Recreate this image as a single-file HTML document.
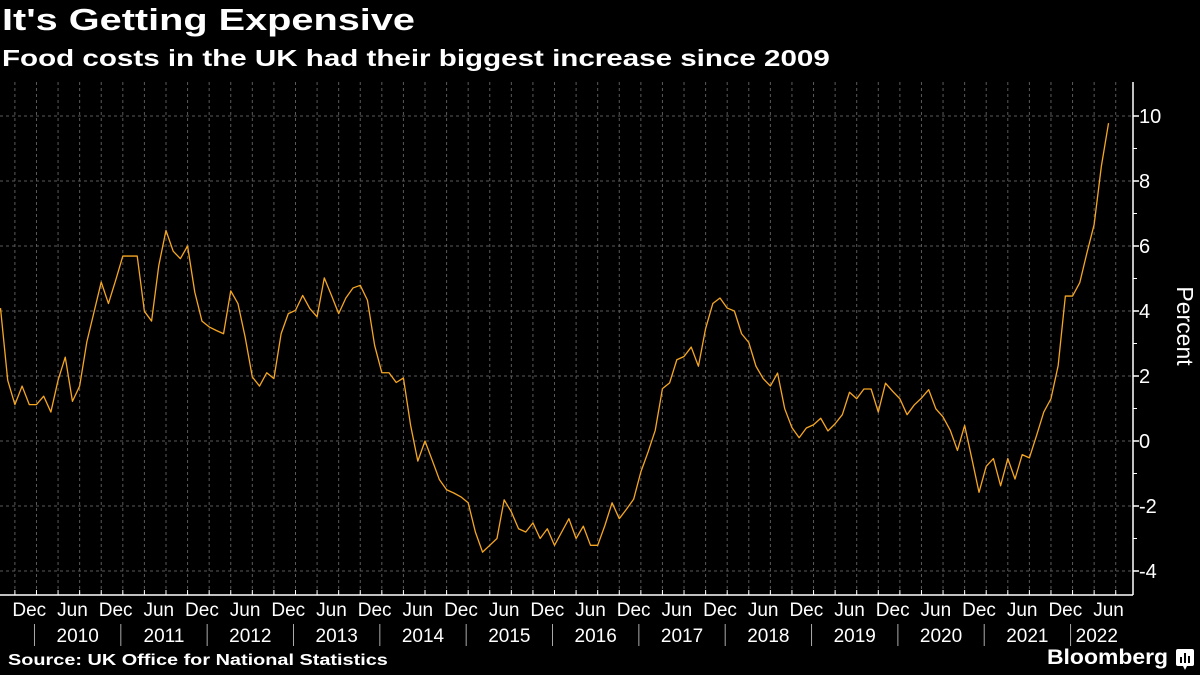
<!DOCTYPE html>
<html><head><meta charset="utf-8">
<style>
html,body{margin:0;padding:0;background:#000;}
body{width:1200px;height:675px;overflow:hidden;font-family:"Liberation Sans",sans-serif;color:#fff;position:relative;}
.fit{position:absolute;white-space:nowrap;transform-origin:0 0;}
#title{left:2px;top:2px;font-size:31px;font-weight:bold;}
#subtitle{left:2px;top:45px;font-size:23px;font-weight:bold;}
#source{left:8px;top:652px;font-size:16px;font-weight:bold;}
#brand{left:1047px;top:646px;font-size:21px;font-weight:bold;}
svg{position:absolute;left:0;top:0;}
</style></head>
<body>
<div id="title" class="fit" data-target="413">It's Getting Expensive</div>
<div id="subtitle" class="fit" data-target="828">Food costs in the UK had their biggest increase since 2009</div>
<svg id="chart" width="1200" height="675"></svg>
<div id="source" class="fit" data-target="380">Source: UK Office for National Statistics</div>
<div id="brand" class="fit" data-target="121">Bloomberg</div>
<svg width="20" height="24" style="left:1175px;top:648px">
<rect x="1" y="1" width="18" height="17" rx="2" fill="#fff"/><path d="M8 18 L10 22 L12 18Z" fill="#fff"/>
<rect x="5" y="9" width="2" height="6" fill="#000"/><rect x="9" y="5" width="2" height="10" fill="#000"/><rect x="13" y="8" width="2" height="7" fill="#000"/>
</svg>
<script>
// Monthly values, Aug 2009 .. Jun 2022
const startYear = 2009, startMonth = 8;
const values = [
4.09,1.87,1.12,1.69,1.12,
1.12,1.38,0.89,1.87,2.58,1.22,1.69,3.05,3.97,4.89,4.23,4.94,
5.69,5.69,5.69,3.99,3.69,5.4,6.48,5.84,5.61,6.0,4.58,3.69,
3.51,3.4,3.3,4.62,4.23,3.2,1.97,1.69,2.1,1.92,3.3,3.92,
4.02,4.48,4.07,3.82,5.02,4.48,3.92,4.4,4.71,4.79,4.33,2.94,
2.1,2.1,1.8,1.94,0.48,-0.62,0.0,-0.59,-1.19,-1.5,-1.6,-1.72,
-1.9,-2.8,-3.42,-3.21,-3.0,-1.81,-2.18,-2.7,-2.8,-2.52,-3.0,-2.7,
-3.21,-2.8,-2.39,-3.0,-2.62,-3.21,-3.21,-2.6,-1.9,-2.39,-2.1,-1.79,
-0.95,-0.34,0.33,1.61,1.79,2.5,2.6,2.89,2.3,3.46,4.23,4.4,
4.09,4.0,3.3,3.03,2.3,1.92,1.69,2.09,0.99,0.41,0.1,0.4,
0.5,0.7,0.31,0.53,0.81,1.5,1.3,1.6,1.6,0.89,1.78,1.53,
1.3,0.81,1.11,1.32,1.58,0.99,0.74,0.33,-0.29,0.48,-0.54,-1.58,
-0.78,-0.54,-1.38,-0.54,-1.17,-0.42,-0.52,0.17,0.89,1.3,2.32,4.46,
4.46,4.87,5.79,6.66,8.45,9.78
];
const yTicks = [-4,-2,0,2,4,6,8,10];
const yMinorTicks = [-3,-1,1,3,5,7,9];
const years = [2010,2011,2012,2013,2014,2015,2016,2017,2018,2019,2020,2021,2022];

document.querySelectorAll('.fit').forEach(el => {
  const w = el.getBoundingClientRect().width;
  const s = parseFloat(el.getAttribute('data-target')) / w;
  el.style.transform = 'scaleX(' + s.toFixed(3) + ')';
});

const svg = document.getElementById('chart');
const NS = 'http://www.w3.org/2000/svg';
const X0 = 0.5, STEP = 7.195, AXR = 1133, AXB = 595, TOP = 82;
const xOf = i => X0 + i * STEP;
const yOf = v => 441 - v * 32.5;
const idx = (y, m) => (y - startYear) * 12 + (m - startMonth);
function mk(tag, attrs) { const e = document.createElementNS(NS, tag); for (const k in attrs) e.setAttribute(k, attrs[k]); svg.appendChild(e); return e; }

yTicks.forEach(t => {
  const g = mk('line', {x1:0, x2:AXR, y1:yOf(t), y2:yOf(t), stroke:'#5a5a5a', 'stroke-width':1, 'stroke-dasharray':'3,3'});
  
  
});
for (let i = 0; i < values.length + 3; i++) {
  const m = ((startMonth - 1 + i) % 12) + 1;
  if ((m - 1) % 3 !== 0) continue;
  const x = xOf(i);
  if (x > AXR) break;
  const g = mk('line', {x1:x, x2:x, y1:TOP, y2:AXB, stroke:'#5a5a5a', 'stroke-width':1, 'stroke-dasharray':'3,3'});
  
  
  const t = mk('line', {x1:x, x2:x, y1:AXB-5, y2:AXB, stroke:'#fff', 'stroke-width':1});
  
  
}
const ax = mk('line', {x1:0, x2:AXR, y1:AXB, y2:AXB, stroke:'#fff', 'stroke-width':1.5});


const ay = mk('line', {x1:AXR, x2:AXR, y1:TOP, y2:AXB, stroke:'#fff', 'stroke-width':1.5});



yTicks.forEach(t => {
  const tk = mk('line', {x1:AXR, x2:AXR+6, y1:yOf(t), y2:yOf(t), stroke:'#fff', 'stroke-width':1.5});
  
  
  const lb = mk('text', {x:AXR+6, y:yOf(t)+7, fill:'#fff', 'font-size':20, 'font-family':'Liberation Sans, sans-serif'});
  lb.textContent = t < 0 ? '-' + Math.abs(t) : String(t);
  
  
});
yMinorTicks.forEach(t => {
  const tk = mk('line', {x1:AXR, x2:AXR+4, y1:yOf(t), y2:yOf(t), stroke:'#fff', 'stroke-width':1});
  
  
});
const yt = mk('text', {x:0, y:0, fill:'#fff', 'font-size':23, 'text-anchor':'middle', transform:'translate(1177,326) rotate(90)', 'font-family':'Liberation Sans, sans-serif'});
yt.textContent = 'Percent';



for (let i = 0; i < values.length; i++) {
  const m = ((startMonth - 1 + i) % 12) + 1;
  if (m !== 12 && m !== 6) continue;
  const lb = mk('text', {x:xOf(i), y:616, fill:'#fff', 'font-size':19, 'text-anchor':'middle', 'font-family':'Liberation Sans, sans-serif'});
  lb.textContent = m === 12 ? 'Dec' : 'Jun';
  
  
}
years.forEach(y => {
  const xs = xOf(idx(y, 1)) - 2;
  const sep = mk('line', {x1:xs, x2:xs, y1:624, y2:646, stroke:'#aaa', 'stroke-width':1});
  
  
  const xe = Math.min(xOf(idx(y + 1, 1)) - 2, AXR - 10);
  const lb = mk('text', {x:(xs + xe) / 2, y:642, fill:'#fff', 'font-size':19, 'text-anchor':'middle', 'font-family':'Liberation Sans, sans-serif'});
  lb.textContent = String(y);
  
  
});

const pts = values.map((v, i) => xOf(i).toFixed(2) + ',' + yOf(v).toFixed(2)).join(' ');
const line = mk('polyline', {points:pts, fill:'none', stroke:'#f5a623', 'stroke-width':1.3, 'stroke-linejoin':'round'});


</script>
</body></html>
